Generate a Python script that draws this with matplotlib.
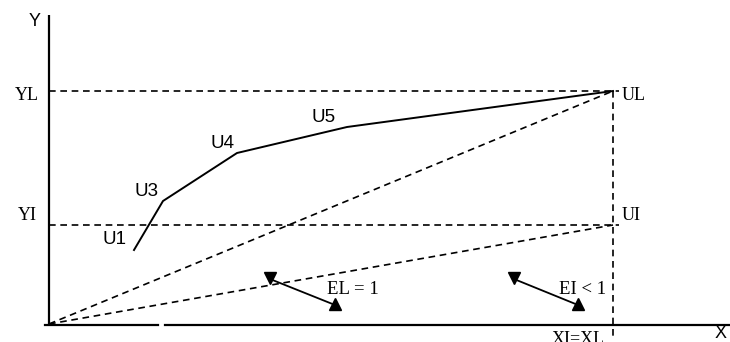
import matplotlib
matplotlib.use("Agg")
import matplotlib.pyplot as plt

# Diagram data (units: origin at lower-left corner of axes)
curve_x = [85, 114, 188, 298, 564]
curve_y = [74, 123, 171, 197, 233]
curve_labels = ["U1", "U3", "U4", "U5"]
label_x = [65, 97, 173, 275]
label_y = [84, 133, 180, 207]

XL = 564
YL = 233
YI = 99

arrow_EL = ([221, 286], [45, 19])
arrow_EI = ([465, 529], [45, 19])

serif = ["Liberation Serif", "DejaVu Serif"]
sans = ["Liberation Sans", "DejaVu Sans"]

fig = plt.figure(figsize=(7.30, 3.42), dpi=100)
ax = fig.add_axes([0, 0, 1, 1])
ax.set_xlim(-49, 681)
ax.set_ylim(-18, 324)
ax.axis("off")

k = "black"
dash = (0, (4.0, 2.8))
# axes
ax.plot([0, 0], [-1, 309], color=k, lw=1.6, solid_capstyle="butt")
ax.plot([-4, 109], [-1, -1], color=k, lw=1.6)
ax.plot([116, 681], [-1, -1], color=k, lw=1.6)
ax.text(-14, 303, "Y", fontsize=13, family=sans, ha="center", va="center")
ax.text(672, -9, "X", fontsize=13, family=sans, ha="center", va="center")

# dashed guides
ax.plot([0, XL + 6], [YL, YL], color=k, lw=1.2, ls=dash)
ax.plot([0, XL + 6], [YI, YI], color=k, lw=1.2, ls=dash)
ax.plot([XL, XL], [YL, -16], color=k, lw=1.2, ls=dash)
ax.plot([0, XL], [0, YL], color=k, lw=1.2, ls=dash)
ax.plot([0, XL], [0, YI], color=k, lw=1.2, ls=dash)

# curve
ax.plot(curve_x, curve_y, color=k, lw=1.4)
for lx, ly, t in zip(label_x, label_y, curve_labels):
    ax.text(lx, ly, t, fontsize=13.5, family=sans, ha="center", va="center")

# serif labels
ax.text(-22, 228, "YL", fontsize=13, family=serif, ha="center", va="center")
ax.text(-22, 108, "YI", fontsize=13, family=serif, ha="center", va="center")
ax.text(XL + 9, 228, "UL", fontsize=13, family=serif, ha="left", va="center")
ax.text(XL + 9, 108, "UI", fontsize=13, family=serif, ha="left", va="center")
ax.text(278, 35, "EL = 1", fontsize=13.5, family=serif, ha="left", va="center")
ax.text(510, 35, "EI < 1", fontsize=13.5, family=serif, ha="left", va="center")
ax.text(503, -7, "XI=XL", fontsize=13, family=serif, ha="left", va="top")

# double-headed indicators
for xs, ys in (arrow_EL, arrow_EI):
    ax.plot(xs, ys, color=k, lw=1.3)
    ax.plot(xs[0], ys[0] + 1, marker="v", color=k, ms=9, mec=k)
    ax.plot(xs[1], ys[1] + 1, marker="^", color=k, ms=9, mec=k)

fig.savefig("out.png", dpi=100)
